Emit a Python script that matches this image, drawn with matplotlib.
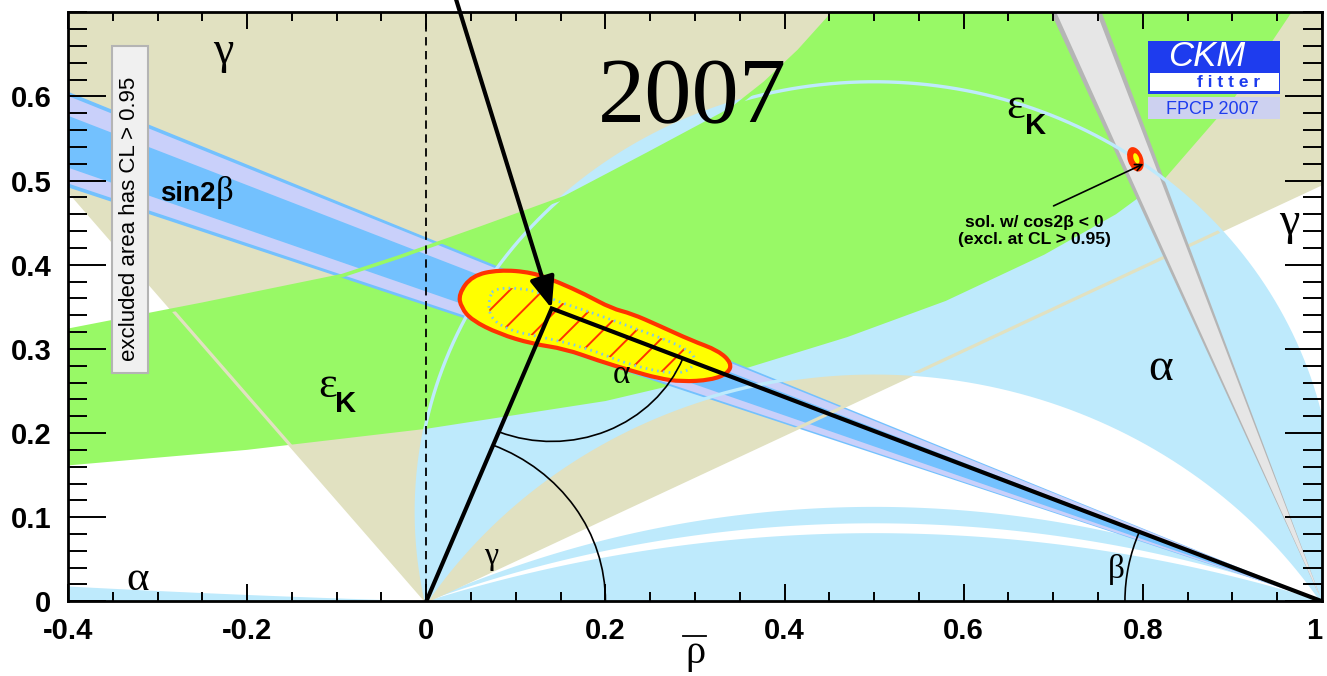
import numpy as np
import matplotlib
matplotlib.use("Agg")
import matplotlib.pyplot as plt
from matplotlib.patches import Polygon, Rectangle, Ellipse, Arc, PathPatch
from matplotlib.path import Path
from matplotlib.lines import Line2D

plt.rcParams['font.family'] = 'Liberation Sans'
plt.rcParams['lines.scale_dashes'] = False
plt.rcParams['hatch.linewidth'] = 1.4

SANS = 'Liberation Sans'
SERIF = 'Liberation Serif'

# ---------------- constraints in the (rho-bar, eta-bar) plane ----------------
apex = (0.140, 0.348)

gamma_edges = [26.4, 129.3]                       # deg, wedge opening at the origin
alpha_bands = [(78.0, 123.0), (154.7, 159.0), (161.6, 180.0)]   # deg
alpha_small = 1.8                                  # deg, solution hugging the negative axis
beta_outer = [19.36, 23.39]                        # deg, seen from (1, 0)
beta_mid = [19.53, 23.22]
beta_core = [20.21, 22.40]

epsk_lo_rho = [-0.45, -0.40, -0.20, 0.00, 0.20, 0.36, 0.47, 0.58, 0.69, 0.77, 0.825, 0.90, 0.966, 0.985]
epsk_lo_eta = [0.157, 0.1615, 0.180, 0.205, 0.238, 0.278, 0.314, 0.357, 0.412, 0.460, 0.503, 0.595, 0.700, 0.730]
epsk_hi_rho = [-0.45, -0.40, -0.25, -0.094, -0.031, 0.062, 0.155, 0.248, 0.341, 0.378, 0.416, 0.449, 0.47]
epsk_hi_eta = [0.312, 0.322, 0.353, 0.387, 0.409, 0.444, 0.480, 0.532, 0.585, 0.616, 0.654, 0.693, 0.730]

fit_rho = [0.036, 0.051, 0.081, 0.118, 0.148, 0.177, 0.207, 0.229, 0.259, 0.296, 0.326, 0.341,
           0.337, 0.318, 0.285, 0.259, 0.229, 0.192, 0.155, 0.118, 0.081, 0.051, 0.039]
fit_eta = [0.365, 0.387, 0.394, 0.391, 0.379, 0.365, 0.348, 0.342, 0.328, 0.310, 0.298, 0.283,
           0.271, 0.263, 0.261, 0.265, 0.274, 0.286, 0.300, 0.306, 0.318, 0.334, 0.349]
fit68_rho = [0.077, 0.118, 0.144, 0.177, 0.229, 0.289, 0.304, 0.285, 0.229, 0.177, 0.129, 0.092, 0.070, 0.070]
fit68_eta = [0.373, 0.371, 0.357, 0.346, 0.326, 0.302, 0.286, 0.268, 0.280, 0.302, 0.314, 0.322, 0.338, 0.361]

mirror_fit = (0.7917, 0.5253)

xtick_vals = [-0.4, -0.2, 0.0, 0.2, 0.4, 0.6, 0.8, 1.0]
xtick_text = ['-0.4', '-0.2', '0', '0.2', '0.4', '0.6', '0.8', '1']
ytick_vals = [0.0, 0.1, 0.2, 0.3, 0.4, 0.5, 0.6]
ytick_text = ['0', '0.1', '0.2', '0.3', '0.4', '0.5', '0.6']

# ---------------- colours ----------------
TAN = '#E1E1C1'
GREEN = '#98F966'
ABLUE = '#BEEAFC'
SBLUE = '#73C1FE'
LAV = '#C9D0FA'
GREY = '#E6E6E6'
GREY_EDGE = '#B5B5B5'
RED = '#FF3300'
LOGO_BLUE = '#1E3CEE'


def alpha_arc(a_deg, n=500):
    """Upper arc of constant alpha, running from (1,0) to (0,0)."""
    if a_deg >= 180.0:
        return np.array([1.0, 0.0]), np.array([0.0, 0.0])
    c = 0.5 / np.tan(np.radians(a_deg))
    r = np.hypot(0.5, c)
    t1 = np.arctan2(-c, 0.5)
    t0 = np.arctan2(-c, -0.5)
    if t0 < t1:
        t0 += 2 * np.pi
    t = np.linspace(t1, t0, n)
    return 0.5 + r * np.cos(t), c + r * np.sin(t)


def beta_wedge(b1, b2, L=2.0):
    a1, a2 = np.radians(b1), np.radians(b2)
    return [(1.0, 0.0), (1 - L * np.cos(a1), L * np.sin(a1)), (1 - L * np.cos(a2), L * np.sin(a2))]


def smooth_closed(xs, ys):
    P = np.column_stack([xs, ys])
    M = (P + np.roll(P, -1, axis=0)) / 2
    verts, codes = [M[-1]], [Path.MOVETO]
    for i in range(len(P)):
        verts += [P[i], M[i]]
        codes += [Path.CURVE3, Path.CURVE3]
    verts.append(M[-1])
    codes.append(Path.CLOSEPOLY)
    return Path(verts, codes)


fig = plt.figure(figsize=(13.27, 6.76), dpi=100)
fig.patch.set_facecolor('white')
ax = fig.add_axes([68 / 1327, (676 - 601.3) / 676, (1322 - 68) / 1327, (601.3 - 12.3) / 676])
ax.set_xlim(-0.4, 1.0)
ax.set_ylim(0.0, 0.7)

# gamma wedge
R = 3.0
g = np.radians(np.linspace(gamma_edges[0], gamma_edges[1], 60))
ax.add_patch(Polygon(np.vstack([[0, 0], np.column_stack([R * np.cos(g), R * np.sin(g)])]),
                     closed=True, fc=TAN, ec='none', zorder=1))

# alpha solutions
for lo, hi in alpha_bands:
    xo, yo = alpha_arc(lo)
    xi, yi = alpha_arc(hi)
    pts = np.vstack([np.column_stack([xo, yo]), np.column_stack([xi[::-1], yi[::-1]])])
    ax.add_patch(Polygon(pts, closed=True, fc=ABLUE, ec='none', zorder=2))
cs = 0.5 / np.tan(np.radians(alpha_small))
rs = np.hypot(0.5, cs)
xs = np.linspace(-0.45, 0.0, 80)
ys = cs - np.sqrt(rs ** 2 - (xs - 0.5) ** 2)
ax.add_patch(Polygon(np.vstack([np.column_stack([xs, ys]), [[-0.45, 0.0]]]), closed=True,
                     fc=ABLUE, ec='none', zorder=2))

# epsilon_K band
ek = np.vstack([np.column_stack([epsk_lo_rho, epsk_lo_eta]),
                np.column_stack([epsk_hi_rho[::-1], epsk_hi_eta[::-1]])])
ax.add_patch(Polygon(ek, closed=True, fc=GREEN, ec='none', zorder=3))

# sin2beta band
ax.add_patch(Polygon(beta_wedge(*beta_outer), closed=True, fc=SBLUE, ec='none', zorder=4))
ax.add_patch(Polygon(beta_wedge(*beta_mid), closed=True, fc=LAV, ec='none', zorder=4.1))
ax.add_patch(Polygon(beta_wedge(*beta_core), closed=True, fc=SBLUE, ec='none', zorder=4.2))

# gamma contour lines
for a in gamma_edges:
    t = np.radians(a)
    ax.plot([0, R * np.cos(t)], [0, R * np.sin(t)], color=TAN, lw=2.3, zorder=4.5,
            solid_capstyle='butt')

# cos2beta < 0 mirror band
m_out = [90 - beta_outer[1], 90 - beta_outer[0]]
ax.add_patch(Polygon(beta_wedge(*m_out), closed=True, fc=GREY_EDGE, ec='none', zorder=5))
ax.add_patch(Polygon(beta_wedge(m_out[0] + 0.42, m_out[1] - 0.42), closed=True, fc=GREY,
                     ec='none', zorder=5.1))

# alpha and epsilon_K contour lines
for a in (alpha_bands[0][0], alpha_bands[0][1]):
    xa, ya = alpha_arc(a)
    ax.plot(xa, ya, color=ABLUE, lw=2.4, zorder=5.5)
ax.plot(epsk_hi_rho, epsk_hi_eta, color=GREEN, lw=2.6, zorder=5.6)

# mirror fit solution
ax.add_patch(Ellipse(mirror_fit, 0.030, 0.017, angle=108, fc=RED, ec='none', zorder=6))
ax.add_patch(Ellipse((mirror_fit[0] + 0.001, mirror_fit[1] + 0.001), 0.013, 0.006, angle=108,
                     fc='#FFFF00', ec='none', zorder=6.1))

# zero line
ax.axvline(0.0, color='black', lw=1.3, ls=(0, (6, 4)), zorder=6.5)

# global fit contours
ax.add_patch(PathPatch(smooth_closed(fit_rho, fit_eta), fc='#FFFF00', ec=RED, lw=3.0, zorder=8))
ax.add_patch(PathPatch(smooth_closed(fit68_rho, fit68_eta), fc='none', ec=RED, lw=0,
                       hatch='/', zorder=8.1))
ax.add_patch(PathPatch(smooth_closed(fit68_rho, fit68_eta), fc='none', ec='#7CC6F2', lw=2.0,
                       ls=(0, (1.2, 3.0)), zorder=8.2))

# unitarity triangle
ax.plot([0.0, apex[0], 1.0], [0.0, apex[1], 0.0], color='black', lw=3.0, zorder=9,
        solid_joinstyle='miter')

# angle arcs
ang_o = np.degrees(np.arctan2(apex[1], apex[0]))
ang_a1 = np.degrees(np.arctan2(-apex[1], -apex[0])) % 360
ang_a2 = np.degrees(np.arctan2(-apex[1], 1 - apex[0])) % 360
ang_b = np.degrees(np.arctan2(apex[1], apex[0] - 1.0))
ax.add_patch(Arc((0, 0), 0.4, 0.4, theta1=0, theta2=ang_o, color='black', lw=1.2, zorder=9))
ax.add_patch(Arc(apex, 0.316, 0.316, theta1=ang_a1, theta2=ang_a2, color='black', lw=1.2, zorder=9))
ax.add_patch(Arc((1, 0), 0.44, 0.44, theta1=ang_b, theta2=180, color='black', lw=1.2, zorder=9))

# arrows
ax.annotate('', xy=apex, xytext=(0.029, 0.73), annotation_clip=False, zorder=10,
            arrowprops=dict(arrowstyle='-|>,head_length=0.95,head_width=0.38', lw=3.0,
                            color='black', mutation_scale=20, shrinkA=0, shrinkB=0))
ax.annotate('', xy=(0.8007, 0.5198), xytext=(0.7003, 0.4699), zorder=10,
            arrowprops=dict(arrowstyle='->', lw=1.2, color='black', mutation_scale=12,
                            shrinkA=0, shrinkB=0))
ax.text(0.6792, 0.4503, 'sol. w/ cos2β < 0', fontsize=12.6, fontweight='bold', ha='center',
        va='center', zorder=15)
ax.text(0.6792, 0.4300, '(excl. at CL > 0.95)', fontsize=12.6, fontweight='bold', ha='center',
        va='center', zorder=15)

# Greek labels
def greek(x, y, s, size):
    ax.text(x, y, s, family=SERIF, fontsize=size, ha='center', va='baseline', zorder=15)

greek(-0.2262, 0.6402, 'γ', 33)
greek(0.9637, 0.4362, 'γ', 33)
greek(0.0728, 0.0442, 'γ', 23)
greek(-0.3228, 0.0134, 'α', 31)
greek(0.218, 0.259, 'α', 24)
greek(0.8195, 0.2626, 'α', 34)
greek(0.770, 0.0279, 'β', 24)
greek(0.6580, 0.5749, 'ε', 32)
greek(-0.110, 0.2427, 'ε', 32)
ax.text(0.6797, 0.5552, 'K', fontsize=21, fontweight='bold', ha='center', va='baseline', zorder=15)
ax.text(-0.0904, 0.2249, 'K', fontsize=21, fontweight='bold', ha='center', va='baseline', zorder=15)
ax.text(-0.2969, 0.476, 'sin2', fontsize=20, fontweight='bold', ha='left', va='baseline', zorder=15)
ax.text(-0.2352, 0.476, 'β', family=SERIF, fontsize=25, ha='left', va='baseline', zorder=15)
ax.text(0.2972, 0.5686, '2007', family=SERIF, fontsize=68, ha='center', va='baseline', zorder=15)

# CL box
ax.add_patch(Rectangle((-0.3512, 0.2708), 0.0402, 0.3891, fc='#F0F0F0', ec='#B4B4B4', lw=1.5,
                       zorder=14))
ax.text(-0.331, 0.4547, 'excluded area has CL > 0.95', rotation=90, fontsize=16, ha='center',
        va='center', zorder=15)

# CKMfitter logo
ax.add_patch(Rectangle((0.8061, 0.6030), 0.1473, 0.0628, fc=LOGO_BLUE, ec='none', zorder=14))
ax.add_patch(Rectangle((0.8084, 0.6065), 0.1439, 0.0217, fc='white', ec='none', zorder=14.1))
ax.add_patch(Rectangle((0.8061, 0.5730), 0.1473, 0.0265, fc='#CDD1F0', ec='none', zorder=14))
ax.text(0.8711, 0.6469, 'CKM', color='white', fontsize=25, style='italic', ha='center',
        va='center', zorder=15)
ax.text(0.8956, 0.6166, 'f i t t e r', color=LOGO_BLUE, fontsize=12.5, fontweight='bold',
        ha='center', va='center', zorder=15)
ax.text(0.8778, 0.5846, 'FPCP 2007', color=LOGO_BLUE, fontsize=13, ha='center', va='center',
        zorder=15)

# axes styling
ax.set_xticks(xtick_vals, labels=xtick_text)
ax.set_yticks(ytick_vals, labels=ytick_text)
ax.set_xticks(np.arange(-0.4, 1.0001, 0.05), minor=True)
ax.set_yticks(np.arange(0.0, 0.7001, 0.02), minor=True)
ax.tick_params(axis='both', which='both', direction='in', top=True, right=True, width=1.4,
               colors='black')
ax.tick_params(axis='x', which='major', length=12.2, pad=11, labelsize=21)
ax.tick_params(axis='x', which='minor', length=6.2)
ax.tick_params(axis='y', which='major', length=27, pad=12, labelsize=21)
ax.tick_params(axis='y', which='minor', length=13.5)
for lbl in ax.get_xticklabels() + ax.get_yticklabels():
    lbl.set_fontweight('bold')
ax.get_xticklabels()[-1].set_horizontalalignment('right')
for sp in ax.spines.values():
    sp.set_linewidth(2.0)
    sp.set_zorder(20)
ax.xaxis.set_zorder(20)
ax.yaxis.set_zorder(20)

# rho-bar label
fig.text(695 / 1327, 1 - 663.5 / 676, 'ρ', family=SERIF, fontsize=29, ha='center', va='baseline')
fig.add_artist(Line2D([683 / 1327, 706 / 1327], [1 - 636 / 676] * 2, transform=fig.transFigure,
                      color='black', lw=1.3))

fig.savefig('out.png', dpi=100)
